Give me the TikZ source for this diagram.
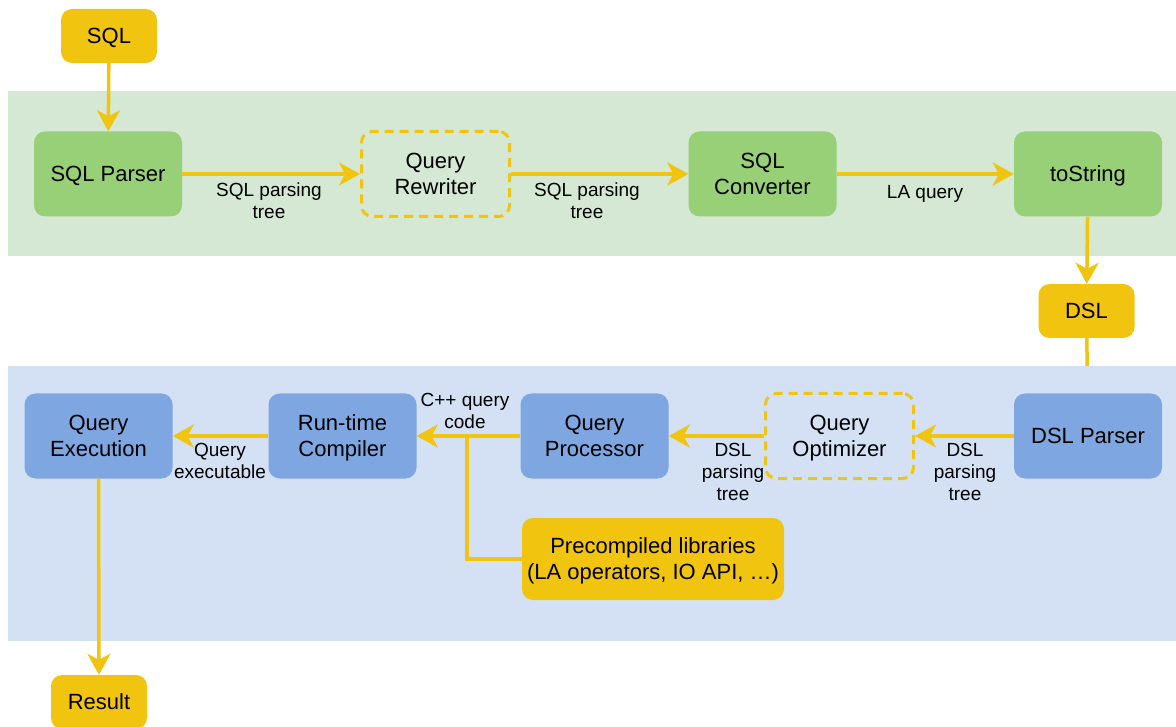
\documentclass[tikz,border=0pt]{standalone}
\usepackage{fontspec}
\setmainfont{Liberation Sans}
\usetikzlibrary{arrows.meta,backgrounds}
\definecolor{yel}{HTML}{F1C40F}
\definecolor{gfill}{HTML}{97D077}
\definecolor{gband}{HTML}{D5E8D4}
\definecolor{bfill}{HTML}{7EA6E0}
\definecolor{bband}{HTML}{D4E1F5}
\begin{document}
\begin{tikzpicture}[x=1pt,y=-1pt,
 box/.style={rounded corners=11pt, minimum width=148pt, minimum height=85pt, align=center, font=\fontsize{22}{26}\selectfont, inner sep=0pt, text depth=-4pt},
 gbox/.style={box, fill=gfill},
 bbox/.style={box, fill=bfill},
 dbox/.style={box, draw=yel, line width=3pt, dash pattern=on 9pt off 6pt},
 ybox/.style={box, fill=yel, minimum width=96pt, minimum height=54pt},
 lbl/.style={font=\fontsize{19}{22}\selectfont, align=center, inner sep=0pt},
 conn/.style={draw=yel, line width=3.5pt},
 arr/.style={conn, -{Stealth[length=21pt,width=23pt,inset=6pt]}},
]
\useasboundingbox (0,0) rectangle (1176,727);
\clip (0,0) rectangle (1176,727);
\node[ybox] (sql) at (109,36) {SQL};
\node[gbox] (sqlp) at (108,174) {SQL Parser};
\node[dbox] (rew) at (435.5,174) {Query\\Rewriter};
\node[gbox] (conv) at (762.5,174) {SQL\\Converter};
\node[gbox] (tos) at (1088,174) {toString};
\node[ybox] (dsl) at (1086.5,311) {DSL};
\node[bbox] (dslp) at (1088,436) {DSL Parser};
\node[dbox] (opt) at (839.5,436) {Query\\Optimizer};
\node[bbox] (proc) at (594.5,436) {Query\\Processor};
\node[bbox] (rtc) at (342.5,436) {Run-time\\Compiler};
\node[bbox] (exe) at (98.5,436) {Query\\Execution};
\node[ybox, minimum width=262pt, minimum height=82pt] (pre) at (653,559) {Precompiled libraries\\(LA operators, IO API, …)};
\node[ybox] (res) at (99,702) {Result};
\coordinate (junc) at (467,436);
\begin{scope}[on background layer]
 \fill[gband] (8,91) rectangle (1176,256);
 \draw[conn] (dsl) -- (dslp);
 \fill[bband] (8,366) rectangle (1176,641);
\end{scope}
\draw[arr] (sql) -- (sqlp);
\draw[arr] (sqlp) -- (rew);
\draw[arr] (rew) -- (conv);
\draw[arr] (conv) -- (tos);
\draw[arr] (tos) -- (dsl);
\draw[arr] (dslp) -- (opt);
\draw[arr] (opt) -- (proc);
\draw[arr] (proc) -- (rtc);
\draw[arr] (rtc) -- (exe);
\draw[arr] (exe) -- (res);
\draw[conn] (pre.west) -| (junc);
\node[lbl] (l1) at (269,201) {SQL parsing\\tree};
\node[lbl] (l2) at (587,201) {SQL parsing\\tree};
\node[lbl] (l3) at (925,194) {LA query};
\node[lbl] (l4) at (965,472) {DSL\\parsing\\tree};
\node[lbl] (l5) at (733,472) {DSL\\parsing\\tree};
\node[lbl] (l6) at (465,411) {C++ query\\code};
\node[lbl] (l7) at (220,461) {Query\\executable};
\end{tikzpicture}
\end{document}
